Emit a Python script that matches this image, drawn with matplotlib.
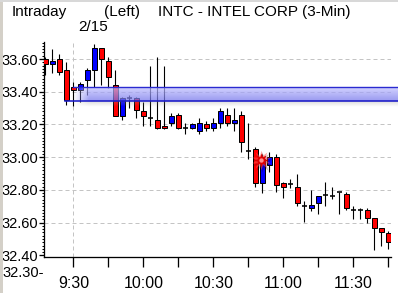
import numpy as np
import matplotlib
matplotlib.use('Agg')
import matplotlib.pyplot as plt
from matplotlib.patches import Rectangle
from matplotlib.ticker import MultipleLocator, FixedLocator, FuncFormatter

# ---------------- data ----------------
bar_index = list(range(-4, 46))
opens = [33.60, 33.57, 33.60, 33.53, 33.43, 33.41, 33.47, 33.53, 33.67, 33.59,
         33.44, 33.25, 33.36, 33.36, 33.28, 33.24, 33.23, 33.19, 33.21, 33.26,
         33.18, 33.18, 33.16, 33.20, 33.18, 33.21, 33.26, 33.21, 33.26, 33.04,
         33.05, 32.84, 32.95, 33.00, 32.84, 32.835, 32.82, 32.70, 32.69, 32.72,
         32.77, 32.76, 32.79, 32.775, 32.68, 32.68, 32.68, 32.63, 32.565, 32.535]
highs = [33.61, 33.66, 33.63, 33.58, 33.46, 33.46, 33.545, 33.69, 33.67, 33.61,
         33.53, 33.37, 33.38, 33.37, 33.34, 33.56, 33.61, 33.56, 33.27, 33.27,
         33.21, 33.21, 33.24, 33.22, 33.24, 33.30, 33.30, 33.30, 33.28, 33.21,
         33.06, 33.02, 33.03, 33.02, 32.85, 32.865, 32.90, 32.73, 32.80, 32.76,
         32.85, 32.82, 32.79, 32.79, 32.70, 32.69, 32.69, 32.63, 32.57, 32.55]
lows = [33.50, 33.515, 33.50, 33.32, 33.31, 33.34, 33.38, 33.43, 33.44, 33.42,
        33.25, 33.23, 33.30, 33.24, 33.19, 33.19, 33.17, 33.17, 33.19, 33.17,
        33.14, 33.17, 33.14, 33.16, 33.16, 33.18, 33.19, 33.16, 33.03, 32.99,
        32.82, 32.78, 32.91, 32.79, 32.75, 32.81, 32.70, 32.605, 32.67, 32.65,
        32.70, 32.745, 32.65, 32.68, 32.62, 32.62, 32.60, 32.43, 32.46, 32.44]
closes = [33.57, 33.59, 33.52, 33.35, 33.41, 33.45, 33.53, 33.67, 33.60, 33.49,
          33.25, 33.36, 33.36, 33.29, 33.25, 33.24, 33.18, 33.18, 33.25, 33.18,
          33.18, 33.20, 33.21, 33.18, 33.21, 33.28, 33.21, 33.23, 33.09, 33.04,
          32.84, 32.99, 33.00, 32.83, 32.82, 32.835, 32.72, 32.70, 32.71, 32.76,
          32.775, 32.76, 32.79, 32.69, 32.68, 32.68, 32.63, 32.57, 32.54, 32.48]

x_tick_pos = [0, 5, 10, 15, 20, 25, 30, 35, 40, 45]
x_tick_labels = ['9:30', '', '10:00', '', '10:30', '', '11:00', '', '11:30', '']
y_ticks = [32.40, 32.60, 32.80, 33.00, 33.20, 33.40, 33.60]
grid_levels = [32.60, 32.80, 33.00, 33.20, 33.40, 33.60]
band_low, band_high = 33.342, 33.426
date_pos = 0
date_label = '2/15'
star_pos = (26.8, 32.98)
extra_low_label = '32.30-'
title_parts = ['Intraday', '(Left)', 'INTC - INTEL CORP (3-Min)']

# ---------------- figure ----------------
W, H = 398, 293
PX = 0.72  # one pixel in points
plt.rcParams['font.family'] = ['Liberation Sans', 'DejaVu Sans']

fig = plt.figure(figsize=(W / 100, H / 100), dpi=100)
fig.patch.set_facecolor('white')
ax = fig.add_axes([44 / W, 36 / H, (391 - 44) / W, (257 - 42) / H])
ax.set_facecolor('white')

XL = (-4.19, 45.39)
YL = (32.39, 33.704)

# grid
for g in grid_levels:
    ax.axhline(g, color='#c4c4c4', lw=PX, ls=(0, (4, 3)), zorder=1)
ax.axvline(date_pos, color='#c4c4c4', lw=PX, ls=(0, (4, 3)), zorder=1)

# candles
bw = 0.33
for i, o, h, l, c in zip(bar_index, opens, highs, lows, closes):
    ax.vlines(i, l, h, color='black', lw=PX * 1.1, zorder=3)
    if abs(c - o) < 0.006:
        ax.hlines(o, i - bw, i + bw, color='black', lw=PX * 1.6, zorder=4)
    else:
        col = '#0000ff' if c > o else '#ff0000'
        ax.add_patch(Rectangle((i - bw, min(o, c)), 2 * bw, abs(c - o),
                               facecolor=col, edgecolor='black', lw=PX, zorder=4))

# band (gradient)
x_end = 46.5
ny, nx = 30, 300
top_col = np.array([0.76, 0.76, 1.0])
bot_col = np.array([0.45, 0.45, 0.92])
t = np.linspace(0, 1, ny)[:, None]
rgb = top_col[None, :] * (1 - t) + bot_col[None, :] * t
img = np.zeros((ny, nx, 4))
img[:, :, :3] = rgb[:, None, :]
xs = np.linspace(0, x_end, nx)
fade = np.clip(xs / 2.2, 0, 1)
img[:, :, 3] = 0.72 * fade[None, :]
im = ax.imshow(img, extent=[0, x_end, band_low, band_high], aspect='auto',
               origin='upper', zorder=5, interpolation='bilinear')
im.set_clip_on(False)
# shadow under band
sh = np.zeros((10, nx, 4))
sh[:, :, :3] = 0.55
sh[:, :, 3] = (np.linspace(0.3, 0.0, 10)[:, None]) * fade[None, :]
im2 = ax.imshow(sh, extent=[0, x_end, band_low - 0.035, band_low], aspect='auto',
                origin='upper', zorder=4.5, interpolation='bilinear')
im2.set_clip_on(False)
ax.plot([0, x_end], [band_high, band_high], color='#2a2ad0', lw=PX * 1.4, zorder=6, clip_on=False)
ax.plot([-1.2, x_end], [band_low, band_low], color='#1c1cc8', lw=PX * 1.6, zorder=6, clip_on=False)

# sparkle
ax.scatter([star_pos[0] + 0.15], [star_pos[1] - 0.01], s=220, marker=(10, 1, 0), color='#300000',
           alpha=0.22, zorder=7, linewidths=0)
ax.scatter([star_pos[0]], [star_pos[1]], s=200, marker=(10, 1, 0), color='#ff5050',
           alpha=0.5, zorder=7, linewidths=0)
ax.scatter([star_pos[0]], [star_pos[1]], s=100, marker=(8, 1, 0), color='#e00000',
           zorder=7, linewidths=0)
ax.scatter([star_pos[0]], [star_pos[1]], s=10, marker='o', color='#ff9090',
           zorder=8, linewidths=0)

ax.set_xlim(*XL)
ax.set_ylim(*YL)

# spines
for s in ['top', 'right']:
    ax.spines[s].set_visible(False)
for s in ['left', 'bottom']:
    ax.spines[s].set_color('black')
    ax.spines[s].set_linewidth(PX * 1.3)

ax.xaxis.set_major_locator(FixedLocator(x_tick_pos))
ax.set_xticklabels(x_tick_labels)
ax.tick_params(axis='x', which='major', length=10 * PX, width=PX * 1.3, direction='out',
               pad=6.5, labelsize=11.5, colors='black')
ax.yaxis.set_major_locator(FixedLocator(y_ticks))
ax.yaxis.set_major_formatter(FuncFormatter(lambda v, p: f'{v:.2f}'))
ax.yaxis.set_minor_locator(MultipleLocator(0.02))
ax.tick_params(axis='y', which='major', length=5 * PX, width=PX * 1.3, direction='out',
               pad=0.5, labelsize=10.5, colors='black')
ax.tick_params(axis='y', which='minor', length=2.5 * PX, width=PX, direction='out')

# extra low label
fig.text(44 / W, 1 - 273 / H, extra_low_label, ha='right', va='center', fontsize=10.5)

# titles
fig.text(12 / W, 1 - 12 / H, title_parts[0], ha='left', va='center', fontsize=11)
fig.text(104 / W, 1 - 12 / H, title_parts[1], ha='left', va='center', fontsize=11)
fig.text(158 / W, 1 - 12 / H, title_parts[2], ha='left', va='center', fontsize=11)
fig.text(93 / W, 1 - 27 / H, date_label, ha='center', va='center', fontsize=11)

# window borders
fig.patches.append(Rectangle((0, 0), 3 / W, 1, transform=fig.transFigure,
                             facecolor='#d4d0c8', edgecolor='none'))
fig.patches.append(Rectangle((0, 1 - 1.5 / H), 1, 1.5 / H, transform=fig.transFigure,
                             facecolor='#d8d8d8', edgecolor='none'))

fig.savefig('out.png', dpi=100, facecolor='white')
